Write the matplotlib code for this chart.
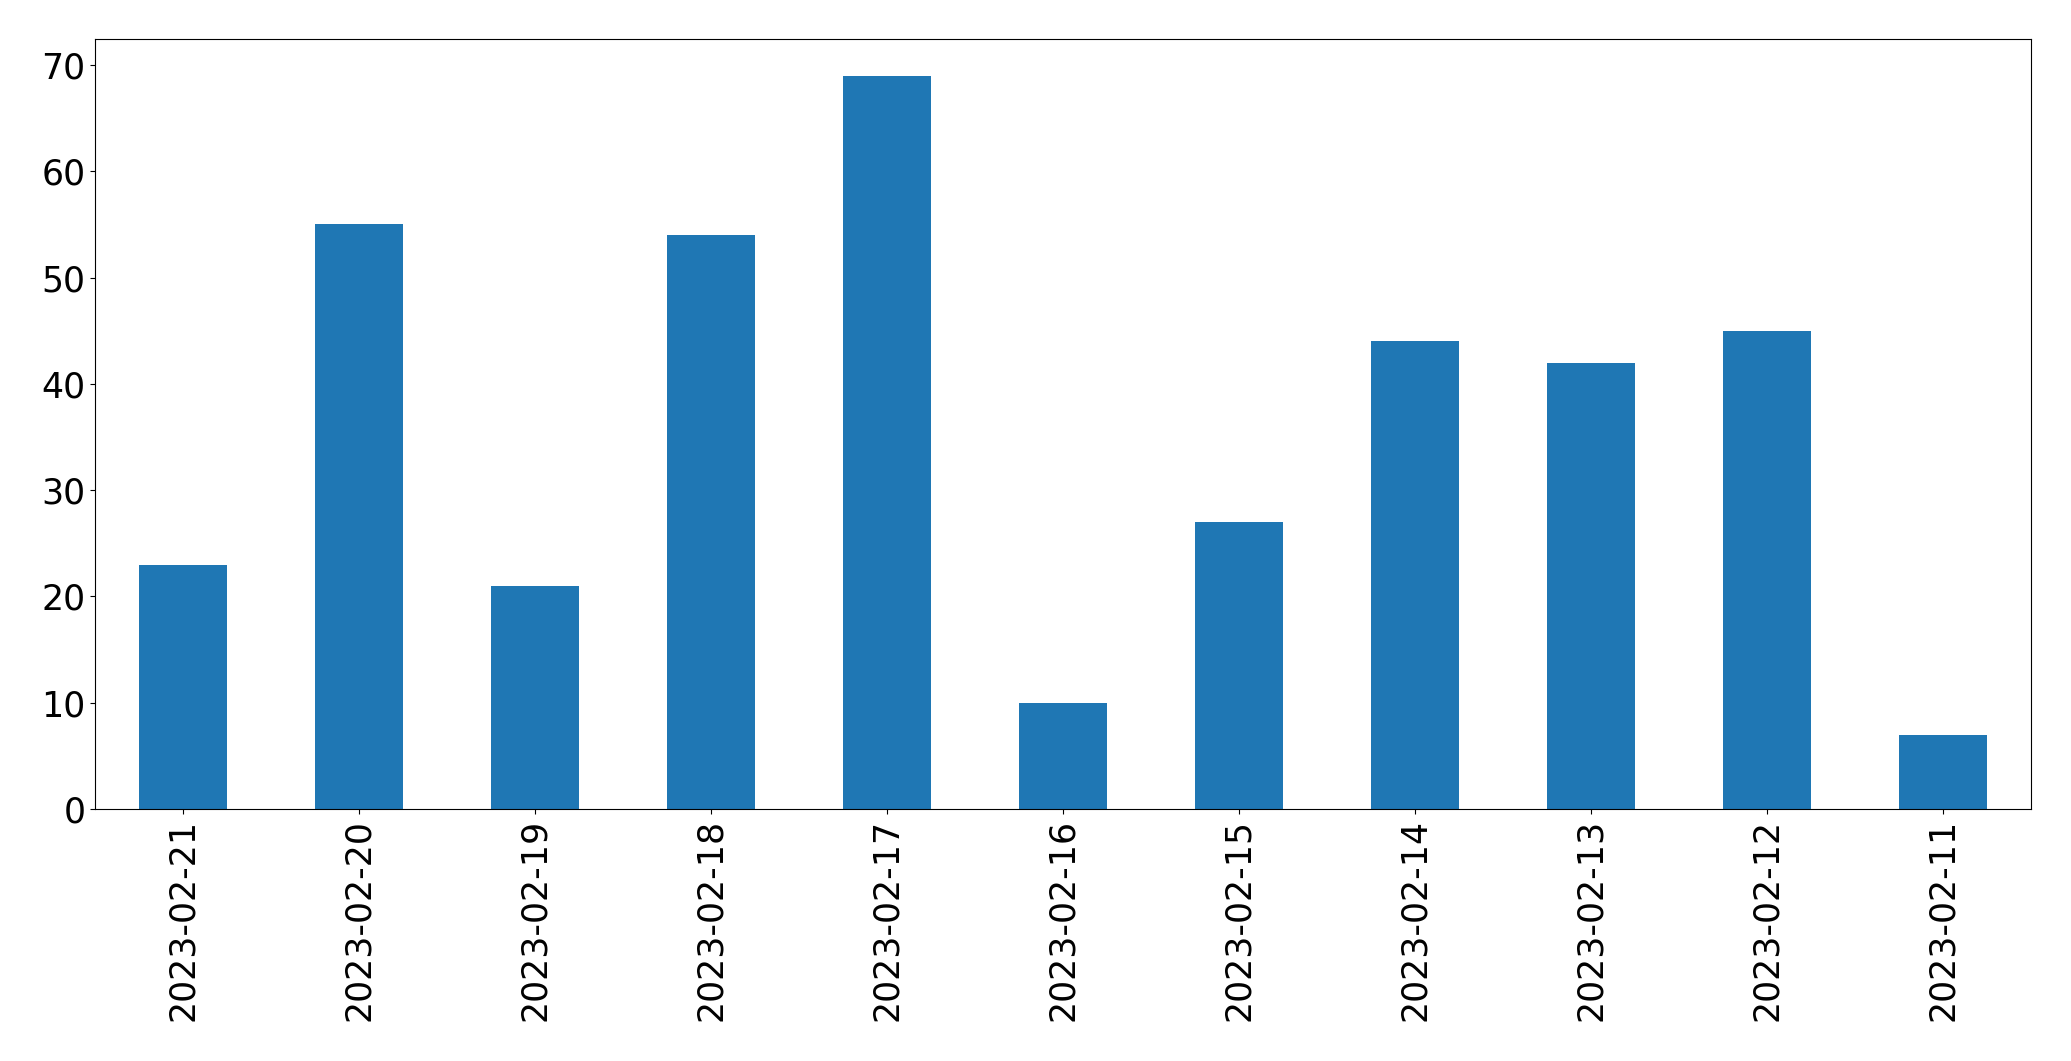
import matplotlib
matplotlib.use("Agg")
import matplotlib.pyplot as plt

dates = ["2023-02-21", "2023-02-20", "2023-02-19", "2023-02-18", "2023-02-17",
         "2023-02-16", "2023-02-15", "2023-02-14", "2023-02-13", "2023-02-12",
         "2023-02-11"]
counts = [23, 55, 21, 54, 69, 10, 27, 44, 42, 45, 7]

fig = plt.figure(figsize=(20.71, 10.61), dpi=100)
ax = fig.add_axes([0.0459, 0.2375, 0.9807 - 0.0459, 0.9632 - 0.2375])

xs = list(range(len(dates)))
ax.bar(xs, counts, width=0.5, color="#1f77b4")
ax.set_xlim(-0.5, len(dates) - 0.5)
ax.set_ylim(0, max(counts) * 1.05)
ax.set_xticks(xs)
ax.set_xticklabels(dates, rotation=90)
ax.tick_params(axis="both", labelsize=25)

fig.savefig("out.png", dpi=100)
